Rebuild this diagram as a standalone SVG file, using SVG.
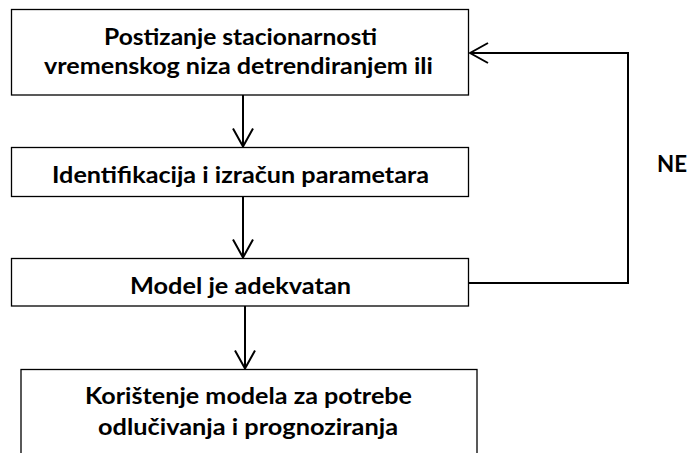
<svg xmlns="http://www.w3.org/2000/svg" width="688" height="453" viewBox="0 0 688 453">
<style>
.box{fill:#fff;stroke:#000;stroke-width:1.3}
.t{font-family:Lato,"Open Sans","Liberation Sans",sans-serif;font-weight:bold;font-size:23px;fill:#000;text-anchor:middle}
.c{fill:none;stroke:#000;stroke-width:2}
</style>
<defs>
<marker id="ah" viewBox="0 0 20 22" refX="19" refY="11" markerWidth="20" markerHeight="22" markerUnits="userSpaceOnUse" orient="auto">
<path d="M1,1 L19,11 L1,21" fill="none" stroke="#000" stroke-width="2"/>
</marker>
</defs>
<rect width="688" height="453" fill="#fff"/>
<g id="connectors">
<line class="c" x1="243" y1="95" x2="243" y2="146.5" marker-end="url(#ah)"/>
<line class="c" x1="243" y1="197" x2="243" y2="257.5" marker-end="url(#ah)"/>
<line class="c" x1="245" y1="306" x2="245" y2="368.5" marker-end="url(#ah)"/>
<polyline class="c" points="469,283 628,283 628,53 470,53" marker-end="url(#ah)"/>
</g>
<g id="n1">
<rect class="box" x="11.5" y="9.5" width="457" height="85.5"/>
<text class="t" x="240.5" y="45" textLength="273" lengthAdjust="spacingAndGlyphs">Postizanje stacionarnosti</text>
<text class="t" x="238.5" y="74" textLength="389" lengthAdjust="spacingAndGlyphs">vremenskog niza detrendiranjem ili</text>
</g>
<g id="n2">
<rect class="box" x="11.5" y="147.5" width="457" height="49"/>
<text class="t" x="240.5" y="183" textLength="377" lengthAdjust="spacingAndGlyphs">Identifikacija i izračun parametara</text>
</g>
<g id="n3">
<rect class="box" x="11.5" y="258.5" width="457" height="47.5"/>
<text class="t" x="240.5" y="294" textLength="221" lengthAdjust="spacingAndGlyphs">Model je adekvatan</text>
</g>
<g id="n4">
<rect class="box" x="21" y="369.5" width="456" height="95"/>
<text class="t" x="248.5" y="404" textLength="327" lengthAdjust="spacingAndGlyphs">Korištenje modela za potrebe</text>
<text class="t" x="248" y="435" textLength="300" lengthAdjust="spacingAndGlyphs">odlučivanja i prognoziranja</text>
</g>
<g id="ne">
<text class="t" x="672" y="172" textLength="30" lengthAdjust="spacingAndGlyphs">NE</text>
</g>
</svg>
